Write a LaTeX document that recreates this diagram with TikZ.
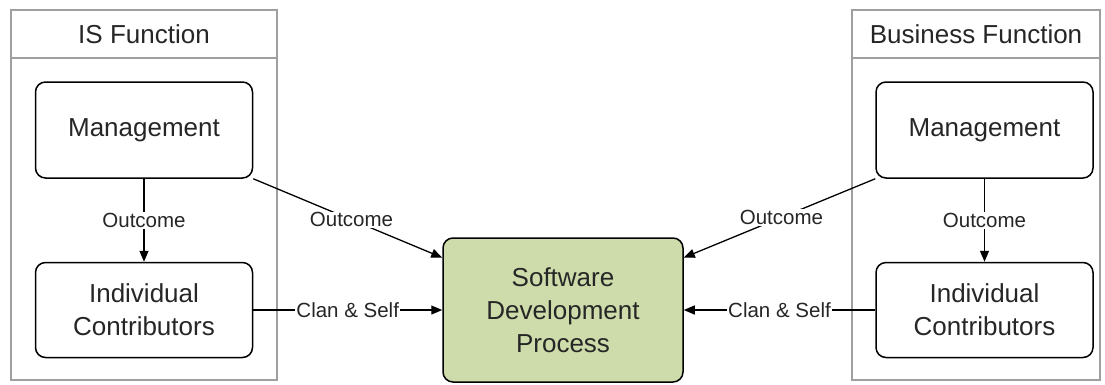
\documentclass[tikz,border=0pt]{standalone}
\usepackage{fontspec}
\setmainfont{Liberation Sans}
\usetikzlibrary{arrows.meta,calc}
\definecolor{sdpgreen}{HTML}{CDDCAA}
\tikzset{
  unit box/.style = {draw=black, line width=1.5pt, rounded corners=10pt, align=center,
                     inner sep=0pt, text=black!85, font=\fontsize{26}{33}\selectfont},
  frame/.style    = {draw=gray!75, line width=1.5pt, inner sep=0pt},
  header/.style   = {frame, text=black!85, font=\fontsize{26}{30}\selectfont},
  flow/.style     = {-{Triangle[length=11pt,width=9pt]}, line width=1.3pt},
  tag/.style      = {fill=white, inner sep=1pt, text=black!85, font=\fontsize{20.5}{24}\selectfont},
}
\begin{document}
\begin{tikzpicture}[x=1pt, y=-1pt]
    \useasboundingbox (0,0) rectangle (1105,384);
    % IS side
    \node [frame, minimum width=266pt, minimum height=370pt] (isframe) at (144,195) {};
    \node [header, minimum width=266pt, minimum height=48pt, anchor=north] (ishead) at (isframe.north) {IS Function};
    \node [unit box, minimum width=217pt, minimum height=96pt]  (ismgmt) at (144,130) {Management};
    \node [unit box, minimum width=217pt, minimum height=95pt]  (isic)   at (144,310) {Individual\\Contributors};
    % business side
    \node [frame, minimum width=248pt, minimum height=370pt] (bsframe) at (976,195) {};
    \node [header, minimum width=248pt, minimum height=48pt, anchor=north] (bshead) at (bsframe.north) {Business Function};
    \node [unit box, minimum width=217pt, minimum height=96pt]  (bsmgmt) at (984.5,130) {Management};
    \node [unit box, minimum width=217pt, minimum height=95pt]  (bsic)   at (984.5,310) {Individual\\Contributors};
    % process
    \node [unit box, fill=sdpgreen, minimum width=240pt, minimum height=144pt] (sdp) at (563,310) {Software\\Development\\Process};
    % connectors
    \draw [flow] (ismgmt) -- node [tag] {Outcome} (isic);
    \draw [flow] (bsmgmt) -- node [tag] {Outcome} (bsic);
    \draw [flow] (ismgmt.south east) -- node [tag, pos=0.52] {Outcome} ($(sdp.north west)!0.14!(sdp.south west)$);
    \draw [flow] (bsmgmt.south west) -- node [tag, pos=0.49] {Outcome} ($(sdp.north east)!0.14!(sdp.south east)$);
    \draw [flow] (isic) -- node [tag] {Clan \& Self} (sdp);
    \draw [flow] (bsic) -- node [tag] {Clan \& Self} (sdp);
\end{tikzpicture}
\end{document}
